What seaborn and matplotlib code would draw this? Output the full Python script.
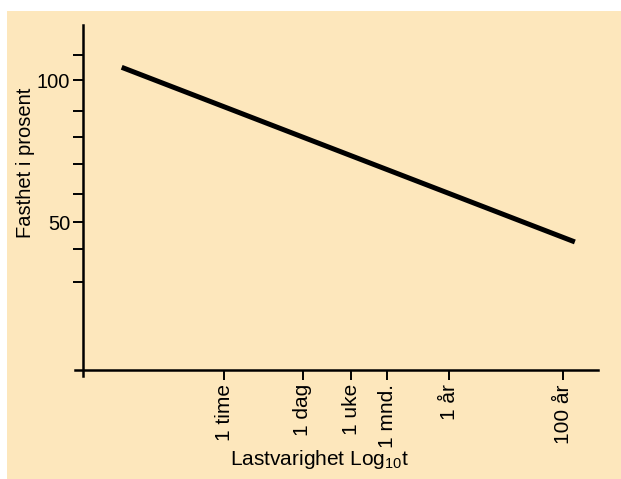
import numpy as np
import matplotlib
matplotlib.use("Agg")
import matplotlib.pyplot as plt
import seaborn as sns
from matplotlib.patches import Rectangle

# Data (time in hours, strength in percent)
line_hours = [10 ** -1.80, 10 ** 6.15]
line_strength = [104.5, 43.0]

tick_hours = [1, 24, 168, 720, 8760, 876000]
tick_labels = ["1 time", "1 dag", "1 uke", "1 mnd.", "1 år", "100 år"]

y_ticks = [109, 100, 89, 80, 70.5, 60, 50, 40.5, 29]
y_tick_labels = ["", "100", "", "", "", "", "50", "", ""]

bg = "#FDE7BC"

sns.set_style("ticks")
plt.rcParams["font.family"] = ["Liberation Sans", "DejaVu Sans"]
plt.rcParams["mathtext.default"] = "regular"

fig = plt.figure(figsize=(6.21, 4.79), dpi=100)
fig.patch.set_facecolor("white")
# cream panel with a thin white border at top/left
fig.add_artist(Rectangle((7 / 621, 0), 1, 1 - 11 / 479, transform=fig.transFigure,
                         facecolor=bg, edgecolor="none", zorder=-10))

ax = fig.add_axes([83 / 621, 109 / 479, 515 / 621, 345 / 479])
ax.set_facecolor("none")

sns.lineplot(x=np.log10(line_hours), y=line_strength, ax=ax,
             color="black", linewidth=3.6, solid_capstyle="butt")

ax.set_xlim(-2.479, 6.556)
ax.set_ylim(-2.1, 119.4)

ax.set_xticks(np.log10(tick_hours))
ax.set_xticklabels(tick_labels, rotation=90, fontsize=15)
ax.set_yticks(y_ticks)
ax.set_yticklabels(y_tick_labels, fontsize=14.5)

ax.tick_params(axis="both", direction="out", length=7.2, width=1.4, color="black",
               labelcolor="black")
ax.tick_params(axis="x", pad=3)
ax.tick_params(axis="y", pad=2)

for side in ["top", "right"]:
    ax.spines[side].set_visible(False)
for side in ["left", "bottom"]:
    ax.spines[side].set_linewidth(1.8)
    ax.spines[side].set_color("black")
# axes cross slightly past each other at the origin
ax.spines["left"].set_bounds(-4.2, 119.4)
ax.spines["bottom"].set_bounds(-2.62, 6.556)

ax.set_xlabel("Lastvarighet Log$_{10}$t", fontsize=15, color="black")
ax.xaxis.set_label_coords(0.46, -0.225)
ax.set_ylabel("Fasthet i prosent", fontsize=14.5, color="black")
ax.yaxis.set_label_coords(-0.093, 0.6)

fig.savefig("out.png", dpi=100, facecolor=fig.get_facecolor())
